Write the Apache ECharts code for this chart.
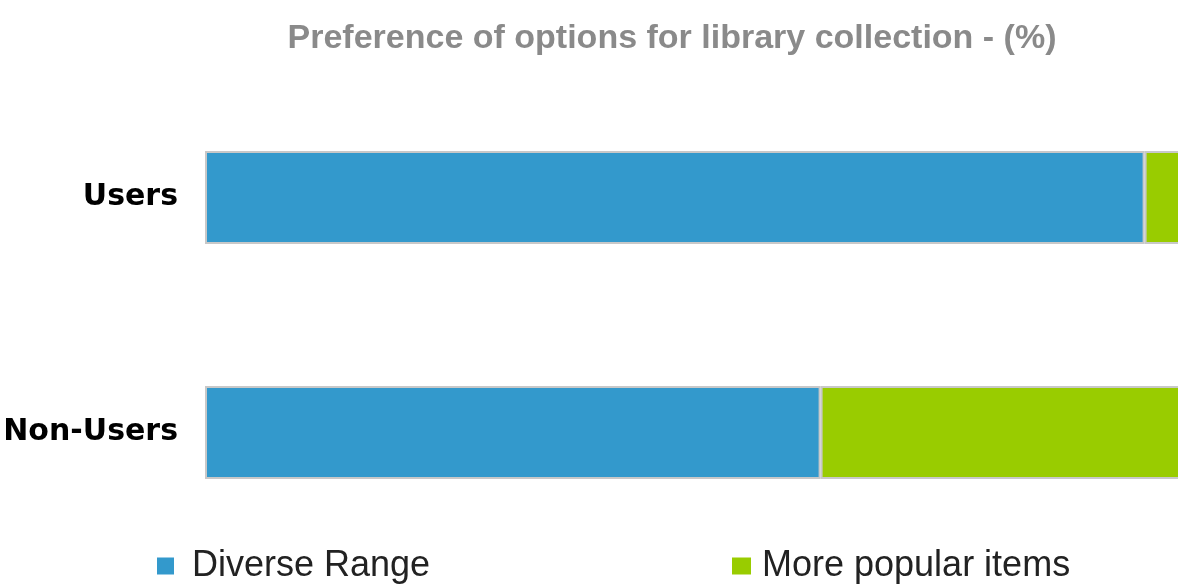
<!DOCTYPE html>
<html>
<head>
<meta charset="utf-8">
<script src="https://cdn.jsdelivr.net/npm/echarts@6/dist/echarts.min.js"></script>
<style>html,body{margin:0;padding:0;background:#fff}#c{width:1178px;height:585px}</style>
</head>
<body>
<div id="c"></div>
<script>
const categories = ['Users', 'Non-Users'];
const diverseRange = [87, 57];
const morePopular = [13, 43];
const seriesNames = ['Diverse Range', 'More popular items'];
const titleText = 'Preference of options for library collection - (%)';

const chart = echarts.init(document.getElementById('c'), null, {renderer: 'canvas'});
const barStyle = {borderColor: '#c8c8c8', borderWidth: 2};
chart.setOption({
  animation: false,
  backgroundColor: '#ffffff',
  title: {
    text: titleText,
    left: 667, textAlign: 'center', top: 17,
    textStyle: {fontFamily: 'Liberation Sans, Arial, sans-serif', fontWeight: 'bold', fontSize: 34, color: '#8a8a8a'}
  },
  legend: [
    {
      data: [seriesNames[0]], left: 152, top: 543, itemWidth: 17, itemHeight: 17, icon: 'rect',
      itemStyle: {borderWidth: 0},
      textStyle: {fontFamily: 'Liberation Sans, Arial, sans-serif', fontSize: 36, color: '#222', padding: [0,0,0,13]}
    },
    {
      data: [seriesNames[1]], left: 727, top: 543, itemWidth: 19, itemHeight: 17, icon: 'rect',
      itemStyle: {borderWidth: 0},
      textStyle: {fontFamily: 'Liberation Sans, Arial, sans-serif', fontSize: 36, color: '#222', padding: [0,0,0,6]}
    }
  ],
  grid: {left: 205, top: 80, width: 1080, height: 470, containLabel: false, outerBoundsMode: 'none'},
  xAxis: {
    type: 'value', min: 0, max: 100, show: false
  },
  yAxis: {
    type: 'category', data: categories, inverse: true,
    axisLine: {show: false}, axisTick: {show: false}, splitLine: {show: false},
    axisLabel: {margin: 27, fontFamily: 'DejaVu Sans, sans-serif', fontWeight: 'bold', fontSize: 30, color: '#000'}
  },
  series: [
    {name: seriesNames[0], type: 'bar', stack: 'a', data: diverseRange, barWidth: 93,
     itemStyle: Object.assign({color: '#3399cc'}, barStyle)},
    {name: seriesNames[1], type: 'bar', stack: 'a', data: morePopular, barWidth: 93,
     itemStyle: Object.assign({color: '#99cc00'}, barStyle)}
  ]
});
</script>
</body>
</html>
